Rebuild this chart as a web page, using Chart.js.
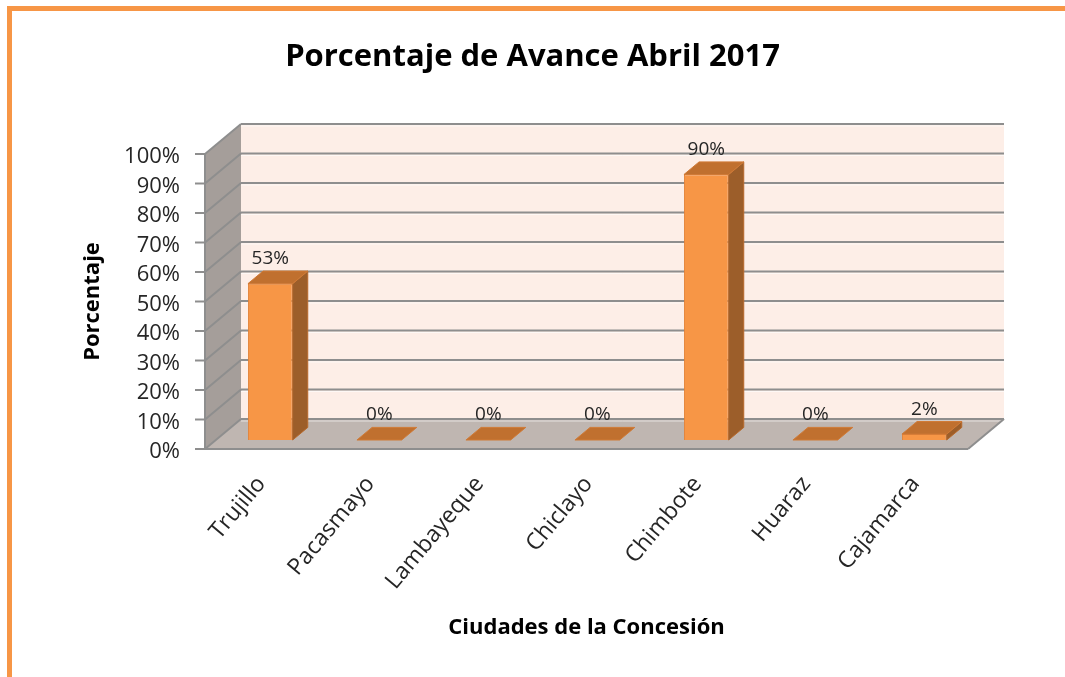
<!DOCTYPE html>
<html><head><meta charset="utf-8">
<script src="https://cdn.jsdelivr.net/npm/chart.js@4"></script>
<style>
html,body{margin:0;padding:0;background:#fff;}
#wrap{position:relative;width:1065px;height:677px;overflow:hidden;background:#fff;}
#frame{position:absolute;left:7px;top:6px;width:1100px;height:700px;border-top:5px solid #F79646;border-left:5px solid #F79646;}
canvas{position:absolute;left:0;top:0;}
</style></head><body>
<div id="wrap"><div id="frame"></div><canvas id="c" width="1065" height="677"></canvas></div>
<script>
const categories = ['Trujillo','Pacasmayo','Lambayeque','Chiclayo','Chimbote','Huaraz','Cajamarca'];
const values = [53, 0, 0, 0, 90, 0, 2];
const yTickValues = [0, 10, 20, 30, 40, 50, 60, 70, 80, 90, 100];
const yTickLabels = ['0%','10%','20%','30%','40%','50%','60%','70%','80%','90%','100%'];
const chartTitle = 'Porcentaje de Avance Abril 2017';
const xTitle = 'Ciudades de la Concesión';
const yTitle = 'Porcentaje';

const FONT = "'Open Sans', sans-serif";
const DX = 36, DY = -30;      // depth of the 3D box
const F1 = 0.3, F2 = 0.72;    // bar front / back depth fraction

function poly(ctx, pts, fill, stroke) {
  ctx.beginPath();
  ctx.moveTo(pts[0][0], pts[0][1]);
  for (let i = 1; i < pts.length; i++) ctx.lineTo(pts[i][0], pts[i][1]);
  ctx.closePath();
  if (fill) { ctx.fillStyle = fill; ctx.fill(); }
  if (stroke) { ctx.strokeStyle = stroke; ctx.lineWidth = 1; ctx.stroke(); }
}
function line(ctx, x1, y1, x2, y2) {
  ctx.beginPath(); ctx.moveTo(x1, y1); ctx.lineTo(x2, y2); ctx.stroke();
}

const threeD = {
  id: 'threeD',
  beforeDatasetsDraw(chart) {
    const {ctx, chartArea: a, scales: {y}} = chart;
    const y0 = y.getPixelForValue(0), y1 = y.getPixelForValue(100);
    ctx.save();
    ctx.fillStyle = '#FDEEE7';
    ctx.fillRect(a.left + DX, y1 + DY, a.right - a.left, y0 - y1);
    poly(ctx, [[a.left, y1], [a.left + DX, y1 + DY], [a.left + DX, y0 + DY], [a.left, y0]], '#A59E9A');
    poly(ctx, [[a.left, y0], [a.right, y0], [a.right + DX, y0 + DY], [a.left + DX, y0 + DY]], '#BFB6B1');
    ctx.lineCap = 'butt';
    yTickValues.forEach(v => {
      const py = y.getPixelForValue(v);
      ctx.strokeStyle = 'rgba(255,255,255,0.6)'; ctx.lineWidth = 1;
      line(ctx, a.left + DX, py + DY + 2, a.right + DX, py + DY + 2);
      ctx.strokeStyle = '#8E8E8E'; ctx.lineWidth = 2;
      line(ctx, a.left, py, a.left + DX, py + DY);
      line(ctx, a.left + DX, py + DY, a.right + DX, py + DY);
      line(ctx, a.left - 10, py, a.left, py);
    });
    ctx.strokeStyle = '#8E8E8E'; ctx.lineWidth = 2;
    line(ctx, a.left, y1, a.left, y0);
    line(ctx, a.left - 10, y0, a.right, y0);
    line(ctx, a.right, y0, a.right + DX, y0 + DY);
    ctx.restore();
    ctx.save();
    ctx.translate(DX * F1, DY * F1);
  },
  afterDatasetsDraw(chart) {
    const ctx = chart.ctx;
    ctx.restore();
    const meta = chart.getDatasetMeta(0);
    const ddx = DX * (F2 - F1), ddy = DY * (F2 - F1);
    ctx.save();
    meta.data.forEach((el, i) => {
      const w = el.width;
      const L = el.x - w / 2 + DX * F1, R = el.x + w / 2 + DX * F1;
      const T = el.y + DY * F1, B = el.base + DY * F1;
      if (B - T > 0.5) {
        poly(ctx, [[R, T], [R + ddx, T + ddy], [R + ddx, B + ddy], [R, B]], '#9C5E2A', '#B86A2C');
      }
      poly(ctx, [[L, T], [R, T], [R + ddx, T + ddy], [L + ddx, T + ddy]], '#C0702F', '#D07A36');
      ctx.fillStyle = '#262626';
      ctx.font = "19px " + FONT;
      ctx.textAlign = 'center';
      ctx.textBaseline = 'middle';
      ctx.fillText(values[i] + '%', (L + R) / 2, T - 25);
    });
    ctx.restore();
  }
};

new Chart(document.getElementById('c'), {
  type: 'bar',
  data: {
    labels: categories,
    datasets: [{
      data: values,
      backgroundColor: '#F79646',
      borderColor: '#E3843A',
      borderWidth: 1,
      categoryPercentage: 1,
      barPercentage: 0.41,
      clip: false
    }]
  },
  options: {
    responsive: false,
    devicePixelRatio: 1,
    animation: false,
    layout: {padding: 0},
    plugins: {
      legend: {display: false},
      tooltip: {enabled: false},
      title: {
        display: true, text: chartTitle, color: '#000',
        font: {family: FONT, size: 31, weight: 'bold', lineHeight: 1.2},
        padding: {top: 39, bottom: 77.8}
      }
    },
    scales: {
      x: {
        grid: {display: false, drawTicks: false},
        border: {display: false},
        ticks: {color: '#262626', font: {family: FONT, size: 23}, minRotation: 50, maxRotation: 50, padding: 22, labelOffset: 2, autoSkip: false},
        title: {display: true, text: xTitle, color: '#000', font: {family: FONT, size: 22, weight: 'bold', lineHeight: 1.2}, padding: {bottom: 36}},
        afterFit(s) { s.height = 228; }
      },
      y: {
        min: 0, max: 100,
        grid: {display: false, drawTicks: false},
        border: {display: false},
        afterBuildTicks(s) { s.ticks = yTickValues.map(v => ({value: v})); },
        ticks: {color: '#262626', font: {family: FONT, size: 22}, padding: 25, labelOffset: 3,
          callback: (v) => yTickLabels[yTickValues.indexOf(v)]},
        title: {display: true, text: yTitle, color: '#000', font: {family: FONT, size: 22, weight: 'bold', lineHeight: 1.2}, padding: {top: 80}},
        afterFit(s) { s.width = 205; }
      },
      yRight: {
        position: 'right',
        min: 0, max: 100,
        grid: {display: false, drawTicks: false},
        border: {display: false},
        ticks: {display: false},
        afterFit(s) { s.width = 97; }
      }
    }
  },
  plugins: [threeD]
});
</script>
</body></html>
